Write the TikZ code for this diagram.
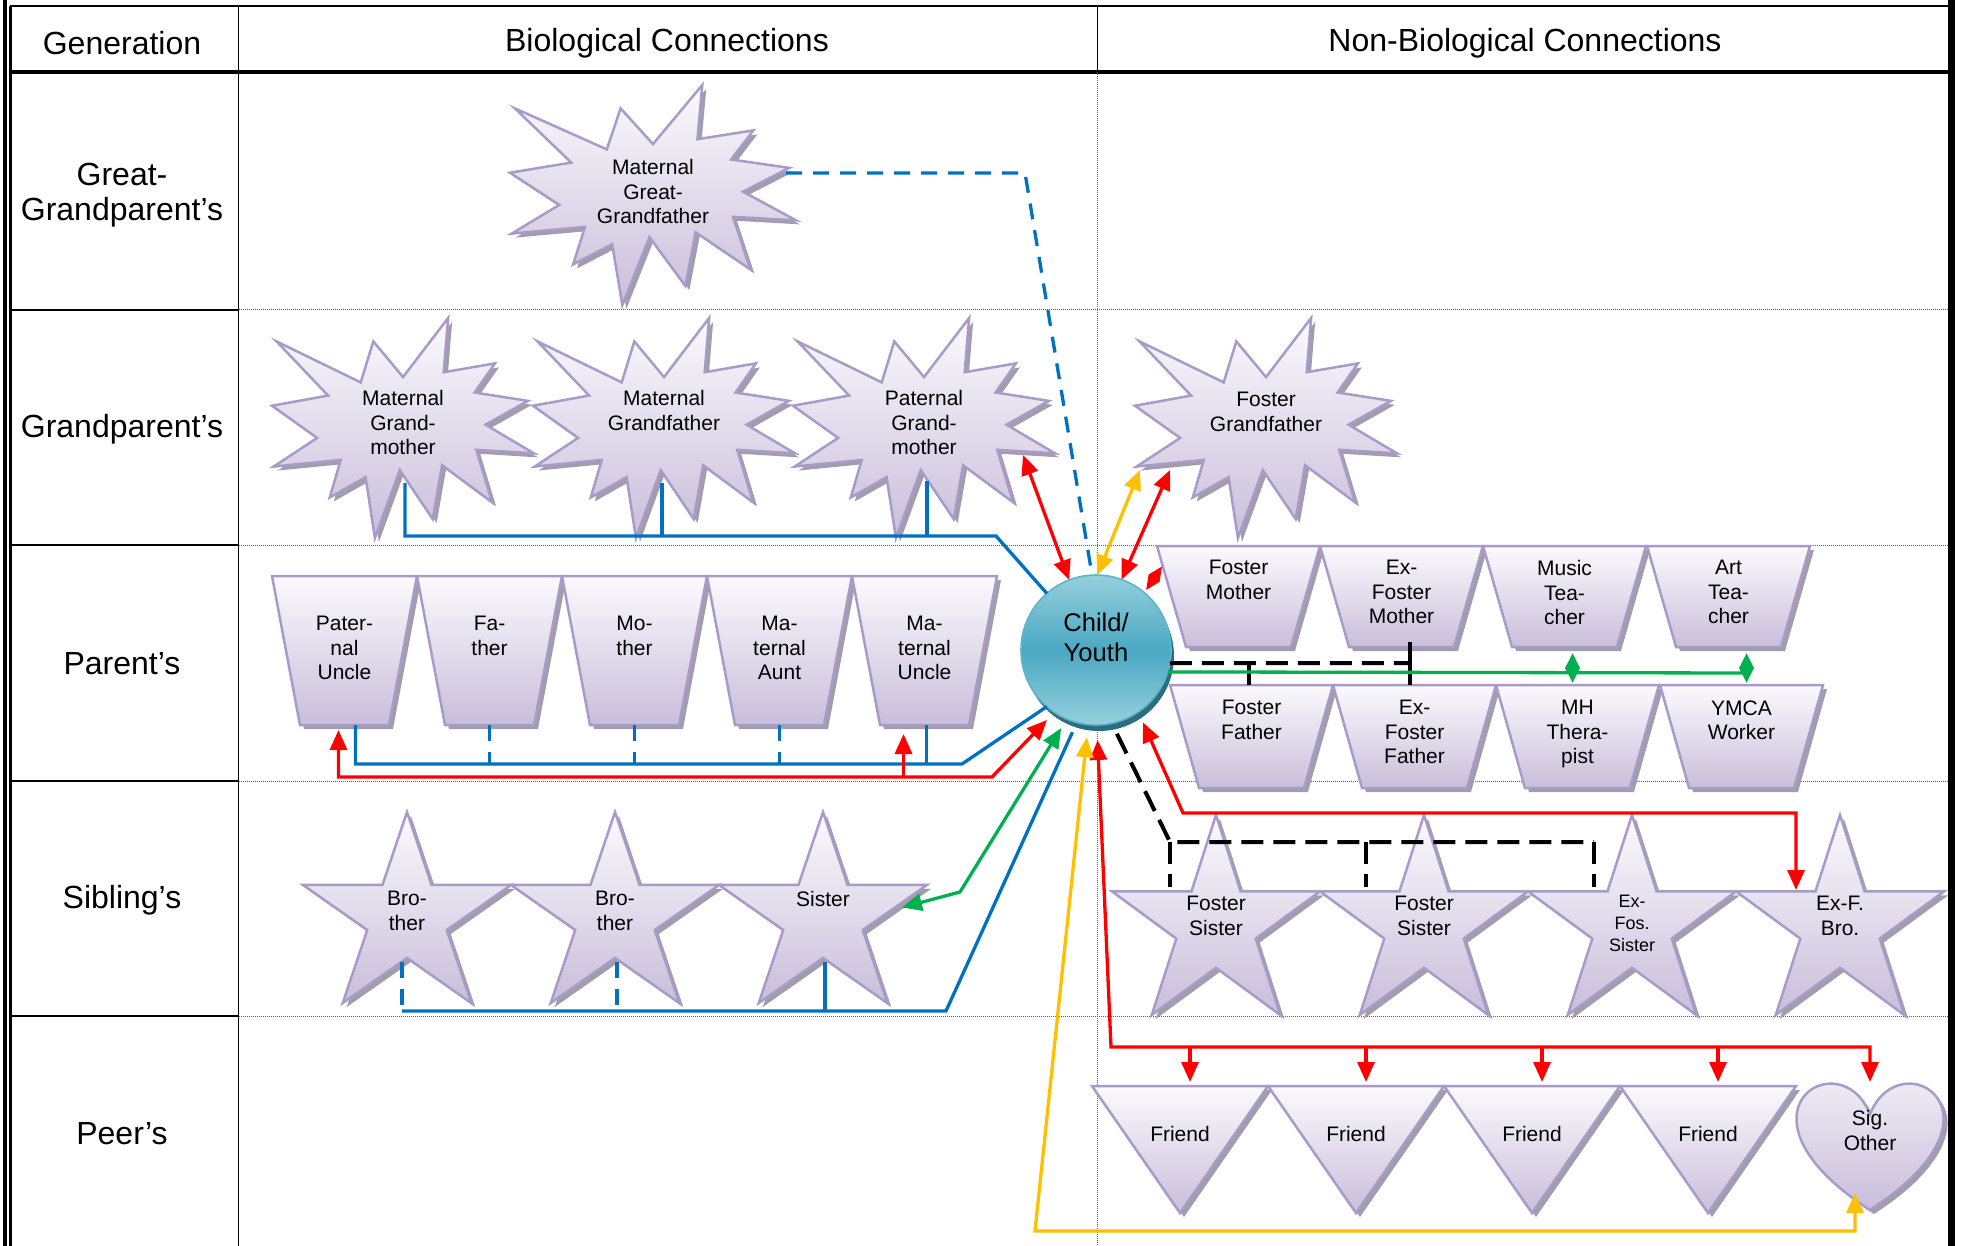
\documentclass[tikz,border=0pt]{standalone}
\usepackage{fontspec}
\setmainfont{Liberation Sans}
\usetikzlibrary{arrows.meta}
\usetikzlibrary{calc}
\definecolor{lavtop}{HTML}{FBFAFD}
\definecolor{lavbot}{HTML}{C9BEDA}
\definecolor{lavline}{HTML}{A99BC9}
\definecolor{lavshadow}{HTML}{A29CAB}
\definecolor{tealmid}{HTML}{4AA8C2}
\definecolor{teallight}{HTML}{95D0DD}
\definecolor{tealline}{HTML}{5DB5CA}
\definecolor{tealshadow}{HTML}{2C6E80}
\definecolor{bioblue}{HTML}{0070C0}
\definecolor{relred}{HTML}{FF0000}
\definecolor{relgreen}{HTML}{00B050}
\definecolor{relyellow}{HTML}{FFC000}
\tikzset{
    sbox/.style = {rectangle, inner sep=0pt, outer sep=0pt},
    ntxt/.style = {align=center, inner sep=0pt, font=\fontsize{10.5}{12.25}\selectfont},
    stxt/.style = {font=\fontsize{9}{11}\selectfont},
    ctxt/.style = {align=center, inner sep=0pt, font=\fontsize{12.8}{15}\selectfont},
    htxt/.style = {align=center, inner sep=0pt, font=\fontsize{16}{17.5}\selectfont},
    lav/.style = {draw=lavline, line width=1.25pt, top color=lavtop, bottom color=lavbot},
    lavsh/.style = {fill=lavshadow},
    childc/.style = {circle, minimum size=75pt, inner sep=0pt, outer sep=0pt, draw=tealline, line width=0.8pt, top color=teallight, bottom color=teallight, middle color=tealmid},
    rowdot/.style = {draw=black!60, line width=0.5pt, dash pattern=on 0.5pt off 0.5pt}
}
\tikzset{
    bio/.style = {draw=bioblue, line width=1.65pt},
    biodash/.style = {bio, dash pattern=on 8pt off 5.5pt},
    rel/.style = {draw=relred, line width=1.65pt},
    grn/.style = {draw=relgreen, line width=1.65pt},
    yel/.style = {draw=relyellow, line width=1.65pt},
    blk/.style = {draw=black, line width=2pt, dash pattern=on 11pt off 5pt},
    gdia/.style = {grn, arrows={Triangle[length=7.6pt,width=7pt]-Triangle[length=7.6pt,width=7pt]}}
}
\newcommand{\explopts}{(0.5,0.2685) -- (0.6723,0) -- (0.6553,0.2465) -- (0.8509,0.2063) -- (0.7732,0.3387) -- (0.9767,0.3767) -- (0.8151,0.4850) -- (1,0.6153) -- (0.7795,0.5992) -- (0.8400,0.8377) -- (0.6491,0.6693) -- (0.6133,0.9137) -- (0.4876,0.6914) -- (0.3928,1) -- (0.3572,0.7235) -- (0.2205,0.8156) -- (0.2624,0.6452) -- (0.0063,0.6753) -- (0.1723,0.5451) -- (0,0.3988) -- (0.2142,0.3526) -- (0.0171,0.1063) -- (0.3385,0.2926) -- (0.3867,0.1063) -- cycle}
\newcommand{\trapApts}{(0,0) -- (1,0) -- (0.807,1) -- (0.193,1) -- cycle}
\newcommand{\trapBpts}{(0,0) -- (1,0) -- (0.822,1) -- (0.178,1) -- cycle}
\newcommand{\starpts}{(0.5,0) -- (0.618,0.382) -- (1,0.382) -- (0.691,0.618) -- (0.809,1) -- (0.5,0.764) -- (0.191,1) -- (0.309,0.618) -- (0,0.382) -- (0.382,0.382) -- cycle}
\newcommand{\tripts}{(0,0) -- (1,0) -- (0.5,1) -- cycle}
\newcommand{\heartpts}{(0.5,0.25) .. controls (0.7083,-0.3333) and (1.5208,0.25) .. (0.5,1) .. controls (-0.5208,0.25) and (0.2917,-0.3333) .. (0.5,0.25) -- cycle}
\newcommand{\pshape}[9][]{%
    \node[sbox, minimum width=#6*0.5pt, minimum height=#7*0.5pt] (#3) at (#4+#6/2,#5+#7/2) {};
    \fill[lavsh, shift={(#4+4,#5+4)}, xscale=#6, yscale=#7] #2;
    \draw[lav, shift={(#4,#5)}, xscale=#6, yscale=#7] #2;
    \node[ntxt, #1, anchor=north] (#3t) at (#4+#6/2,#5+#8) {#9};
}

\begin{document}
\begin{tikzpicture}
            [>={Triangle[length=10pt,width=8.5pt]}, x=0.5pt, y=-0.5pt]

            \useasboundingbox (0,0) rectangle (1965,1246);

            \draw[line width=2pt] (5,0) -- (5,1246);
            \draw[line width=1.1pt] (10.5,5.7) -- (10.5,1246);
            \draw[line width=1pt] (10,5.7) -- (1948,5.7);
            \draw[line width=1.75pt] (10,72) -- (1948,72);
            \draw[line width=0.85pt] (238.5,5.7) -- (238.5,1246);
            \draw[line width=0.5pt] (1097,5.7) -- (1097,72);
            \draw[line width=3.5pt] (1951.5,0) -- (1951.5,1246);
            \foreach \y in {310,545,781,1016} {
                \draw[line width=1.15pt] (10,\y) -- (238.5,\y);
                \draw[rowdot] (238.5,\y) -- (1948,\y);
            }
            \draw[rowdot] (1097,72) -- (1097,1246);

            \node[htxt] (hgen) at (122,43) {Generation};
            \node[htxt] (hbio) at (667,43) {Biological Connections};
            \node[htxt] (hnon) at (1525,43) {Non-Biological Connections};
            \node[htxt] (ggp) at (122,195) {Great-\\Grandparent’s};
            \node[htxt] (gp) at (122,429) {Grandparent’s};
            \node[htxt] (par) at (122,664) {Parent’s};
            \node[htxt] (sib) at (122,900) {Sibling’s};
            \node[htxt] (peer) at (122,1134) {Peer’s};

            \pshape{\explopts}{mggf}{510}{85}{286}{220}{74}{Maternal\\Great-\\Grandfather}
            \pshape{\explopts}{mgm}{272}{318}{262}{220}{72}{Maternal\\Grand-\\mother}
            \pshape{\explopts}{mgf}{533}{318}{262}{220}{72}{Maternal\\Grandfather}
            \pshape{\explopts}{pgm}{793}{318}{262}{220}{72}{Paternal\\Grand-\\mother}
            \pshape{\explopts}{fgf}{1135}{318}{262}{220}{74}{Foster\\Grandfather}

            \pshape{\trapApts}{patunc}{272}{576}{145}{149}{40}{Pater-\\nal\\Uncle}
            \pshape{\trapApts}{father}{417}{576}{145}{149}{40}{Fa-\\ther}
            \pshape{\trapApts}{mother}{562}{576}{145}{149}{40}{Mo-\\ther}
            \pshape{\trapApts}{mataunt}{707}{576}{145}{149}{40}{Ma-\\ternal\\Aunt}
            \pshape{\trapApts}{matunc}{852}{576}{145}{149}{40}{Ma-\\ternal\\Uncle}

            \pshape{\trapBpts}{fmother}{1157}{546}{163}{101}{14}{Foster\\Mother}
            \pshape{\trapBpts}{exfmother}{1320}{546}{163}{101}{14}{Ex-\\Foster\\Mother}
            \pshape{\trapBpts}{musict}{1483}{546}{163}{101}{14}{Music\\Tea-\\cher}
            \pshape{\trapBpts}{artt}{1647}{546}{163}{101}{14}{Art\\Tea-\\cher}
            \pshape{\trapBpts}{ffather}{1170}{685}{163}{103}{15}{Foster\\Father}
            \pshape{\trapBpts}{exffather}{1333}{685}{163}{103}{15}{Ex-\\Foster\\Father}
            \pshape{\trapBpts}{mhther}{1496}{685}{163}{103}{15}{MH\\Thera-\\pist}
            \pshape{\trapBpts}{ymca}{1660}{685}{163}{103}{15}{YMCA\\Worker}

            \pshape{\starpts}{bro1}{303}{812}{208}{191}{79}{Bro-\\ther}
            \pshape{\starpts}{bro2}{511}{812}{208}{191}{79}{Bro-\\ther}
            \pshape{\starpts}{sis}{719}{812}{208}{191}{79}{Sister}
            \pshape{\starpts}{fsis1}{1112}{815}{208}{200}{81}{Foster\\Sister}
            \pshape{\starpts}{fsis2}{1320}{815}{208}{200}{81}{Foster\\Sister}
            \pshape[stxt]{\starpts}{exfsis}{1528}{815}{208}{200}{80}{Ex-\\Fos.\\Sister}
            \pshape{\starpts}{exfbro}{1736}{815}{208}{200}{81}{Ex-F.\\Bro.}

            \pshape{\tripts}{friend1}{1092}{1086}{176}{127}{40}{Friend}
            \pshape{\tripts}{friend2}{1268}{1086}{176}{127}{40}{Friend}
            \pshape{\tripts}{friend3}{1444}{1086}{176}{127}{40}{Friend}
            \pshape{\tripts}{friend4}{1620}{1086}{176}{127}{40}{Friend}
            \pshape{\heartpts}{sigother}{1797}{1082}{146}{128}{28}{Sig.\\Other}

            \fill[tealshadow] (1099,656) circle [radius=37.5pt];
            \node[childc] (child) at (1096,650) {};
            \node[ctxt] (childt) at (1096,637) {Child/\\Youth};

            \coordinate (ggbend) at (1025,173);
            \coordinate (gpbus) at (996,536);
            \coordinate (pbus) at (962,764);
            \coordinate (rbus) at (992,777);
            \coordinate (sbus) at (946,1011);
            \coordinate (gbend) at (960,892);
            \coordinate (ybus) at (1035,1231);
            \coordinate (fbus) at (1111,1047);
            \coordinate (xbend) at (1183,813);
            \coordinate (fsbend) at (1170,842);
            \coordinate (rdiaa) at ($(child.52)+(4,-1)$);
            \coordinate (rdiab) at ($(fmother.west)+(5,-30)$);

            \draw[biodash] ($(mggf.east)+(-10,-22)$) -- (ggbend) -- (child.93);
            \draw[bio] ($(mgm.south)+(2,-55)$) |- (gpbus) -- (child.131);
            \draw[bio] ($(mgf.south)+(-2,-55)$) -- ($(mgf.south)+(-2,-2)$);
            \draw[bio] ($(pgm.south)+(3,-57)$) -- ($(pgm.south)+(3,-2)$);

            \draw[bio] ($(patunc.south)+(11,0)$) |- (pbus) -- (child.229);
            \draw[bio] ($(matunc.south)+(2,0)$) -- ($(matunc.south)+(2,39)$);
            \foreach \p in {father,mother,mataunt}
                \draw[biodash] (\p.south) -- ($(\p.south)+(0,39)$);

            \draw[bio] ($(bro1.south)+(-5,8)$) -- (sbus) -- ($(child)!1.14!(child.254)$);
            \draw[biodash] ($(bro1.south)+(-5,-41)$) -- ($(bro1.south)+(-5,8)$);
            \draw[biodash] ($(bro2.south)+(2,-41)$) -- ($(bro2.south)+(2,8)$);
            \draw[bio] ($(sis.south)+(2,-41)$) -- ($(sis.south)+(2,8)$);

            \draw[rel, <->] ($(pgm.east)+(-32,27)$) -- (child.111);
            \draw[yel, <->] ($(fgf.west)+(5,42)$) -- (child.89);
            \draw[rel, <->] ($(fgf.west)+(35,42)$) -- (child.70);
            \fill[relred] (rdiaa) -- ($(rdiaa)!0.5!(rdiab)!3.3pt!90:(rdiab)$) -- (rdiab) -- ($(rdiaa)!0.5!(rdiab)!3.3pt!-90:(rdiab)$) -- cycle;

            \draw[rel, <->] ($(patunc.south)+(-6,5)$) |- (rbus) -- ($(child)!1.14!(child.235)$);
            \draw[rel, ->] ($(matunc.south)+(-21,52)$) -- ($(matunc.south)+(-21,9)$);

            \draw[grn, <->] ($(sis.east)+(-25,0)$) -- (gbend) -- ($(child)!1.14!(child.246)$);

            \draw[blk] (child.-10) -- ($(exfmother.south)+(8,16)$);
            \draw[blk, solid] ($(exfmother.south)+(8,-5)$) -- ($(exffather.north)+(-5,0)$);
            \draw[blk, solid] ($(ffather.north)+(-3,-22)$) -- ($(ffather.north)+(-3,0)$);
            \draw[grn] (child.-17) -- ($(ymca.north)+(5,-12)$);
            \draw[gdia] ($(musict.south)+(8,6)$) -- ($(musict.south)+(8,36)$);
            \draw[gdia] ($(artt.south)+(18,6)$) -- ($(artt.south)+(18,36)$);

            \draw[blk] ($(child)!1.15!(child.284)$) -- (fsbend) -- ($(exfsis.north)+(-38,27)$);
            \draw[blk] (fsbend) -- ($(fsis1.north)+(-46,72)$);
            \draw[blk] ($(fsis2.north)+(-58,27)$) -- ($(fsis2.north)+(-58,72)$);
            \draw[blk] ($(exfsis.north)+(-38,27)$) -- ($(exfsis.north)+(-38,72)$);

            \draw[rel, <->] ($(child)!1.15!(child.303)$) -- (xbend) -| ($(exfbro.north)+(-44,75)$);

            \draw[rel, <->] ($(child)!1.2!(child.271)$) -- (fbus) -| (sigother.north);
            \foreach \fr in {friend1,friend2,friend3,friend4}
                \draw[rel, ->] ($(\fr.north)+(10,-39)$) -- ($(\fr.north)+(10,-4)$);

            \draw[yel, <->] ($(child)!1.17!(child.264)$) -- (ybus) -| ($(sigother.south)+(-15,-17)$);
\end{tikzpicture}
\end{document}
